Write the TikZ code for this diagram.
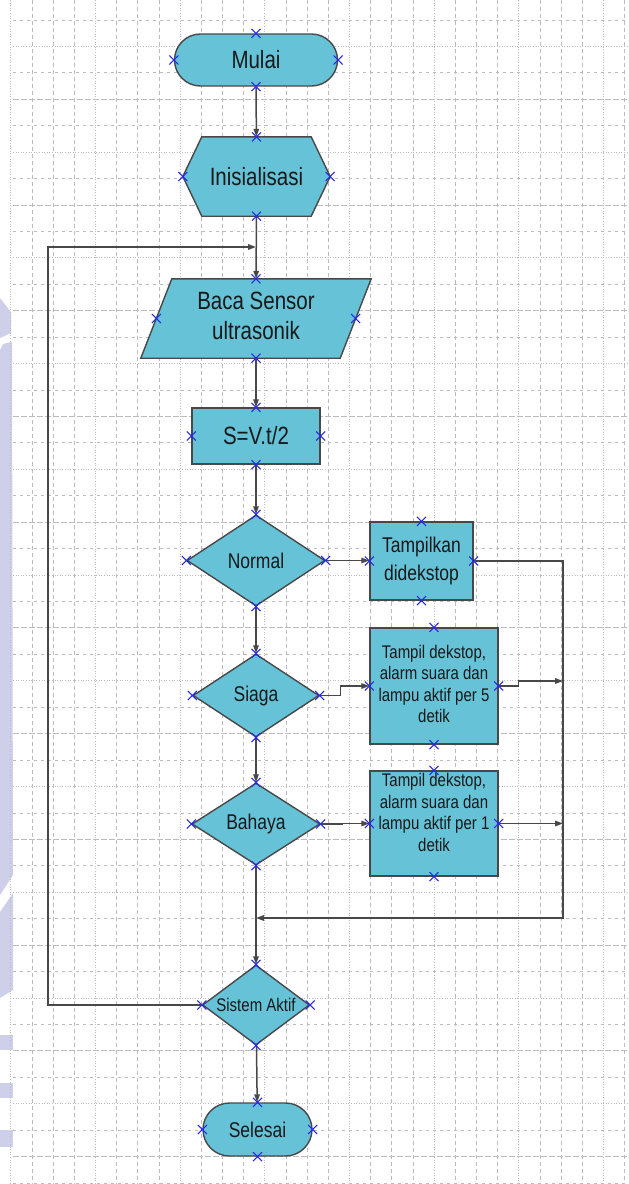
\documentclass[tikz,border=0pt]{standalone}
\usepackage{fontspec}
\setmainfont{Liberation Sans}
\usetikzlibrary{arrows.meta,calc,shapes.geometric}
\pgfdeclarelayer{gridlayer}
\pgfdeclarelayer{shapelayer}
\pgfdeclarelayer{marklayer}
\pgfsetlayers{gridlayer,shapelayer,main,marklayer}
\definecolor{boxfill}{RGB}{101,194,215}
\definecolor{edgec}{RGB}{72,72,72}
\definecolor{gridc}{RGB}{188,188,188}
\definecolor{wmc}{RGB}{205,208,232}
\definecolor{xblue}{RGB}{40,40,235}
\definecolor{txt}{RGB}{25,25,25}
\newcommand\vstr[1]{\scalebox{1}[1.22]{#1}}
\newcommand\tlines[1]{\vstr{\begin{tabular}{@{}c@{}}#1\end{tabular}}}
\tikzset{
  base/.style={inner sep=0pt, text=txt, align=center},
  box/.style={base, rectangle, draw=edgec, fill=boxfill, line width=1.4pt},
  dia/.style={base, diamond, draw=edgec, fill=boxfill, line width=1.4pt},
  ghost/.style={base, rectangle},
  outline/.style={draw=edgec, fill=boxfill, line width=1.4pt, line join=miter},
  flow/.style={draw=edgec, line width=1.5pt, -{Triangle[length=8pt,width=5.5pt]}},
  fA/.style={font=\fontsize{20.5pt}{24.5pt}\selectfont},
  fB/.style={font=\fontsize{17.5pt}{22.5pt}\selectfont},
  fC/.style={font=\fontsize{15pt}{17.6pt}\selectfont},
  xm/.pic={\draw[xblue, line width=1.1pt] (-4.5,-4.5) -- (4.5,4.5) (-4.5,4.5) -- (4.5,-4.5);}
}
\begin{document}
\begin{tikzpicture}[x=1pt,y=-1pt]
\useasboundingbox (0,0) rectangle (629,1184);

\begin{pgfonlayer}{gridlayer}
  \fill[white] (0,0) rectangle (629,1184);
  % faint watermark on the left edge
  \fill[wmc] (0,298) -- (11,312) -- (11,333) -- (0,338) -- cycle;
  \fill[wmc] (3,344) -- (12,342) -- (13,875) -- (0,895) -- (0,350) -- cycle;
  \fill[wmc] (0,912) -- (13,893) -- (13,990) -- (0,998) -- cycle;
  \fill[wmc] (0,1035) rectangle (13,1050);
  \fill[wmc] (0,1083) rectangle (13,1098);
  \fill[wmc] (0,1130) rectangle (13,1147);
  % grid
  \foreach \k in {0,...,29}{
    \pgfmathsetmacro\xx{10.8+21.17*\k}
    \pgfmathtruncatemacro\m{mod(\k,4)}
    \ifnum\m=0
      \draw[gridc, line width=0.8pt, dash pattern=on 1pt off 1.6pt] (\xx,0) -- (\xx,1184);
    \else
      \draw[gridc, line width=0.8pt, dash pattern=on 4pt off 3pt] (\xx,0) -- (\xx,1184);
    \fi
  }
  \foreach \k in {0,...,44}{
    \pgfmathsetmacro\yy{20+26.43*\k}
    \pgfmathtruncatemacro\m{mod(\k,4)}
    \ifnum\m=1
      \draw[gridc, line width=0.8pt, dash pattern=on 1pt off 1.6pt] (13,\yy) -- (629,\yy);
    \else\ifnum\m=3
      \draw[gridc, line width=0.8pt, dash pattern=on 6pt off 2pt] (13,\yy) -- (629,\yy);
    \else
      \draw[gridc, line width=0.8pt, dash pattern=on 3pt off 4pt] (13,\yy) -- (629,\yy);
    \fi\fi
  }
\end{pgfonlayer}

% nodes
\node[box, fA, rounded corners=26pt, minimum width=163pt, minimum height=52pt] (mulai) at (256,60) {\vstr{Mulai}};
\node[ghost, fA, minimum width=147pt, minimum height=79pt] (init) at (256.5,176.5) {\vstr{Inisialisasi}};
\node[ghost, fA, minimum width=230pt, minimum height=79pt] (baca) at (256,318.5) {\tlines{Baca Sensor\\ultrasonik}};
\node[box, fA, minimum width=128pt, minimum height=56pt] (calc) at (256,436) {\vstr{S=V.t/2}};
\node[dia, fB, minimum width=138pt, minimum height=91pt] (normal) at (256,560.5) {\vstr{Normal}};
\node[box, fB, minimum width=103pt, minimum height=78pt] (tamp0) at (421.5,561) {\tlines{Tampilkan\\didekstop}};
\node[dia, fB, minimum width=126pt, minimum height=83pt] (siaga) at (256,695.5) {\vstr{Siaga}};
\node[box, fC, minimum width=128pt, minimum height=116pt] (tamp1) at (434,686) {\tlines{Tampil dekstop,\\alarm suara dan\\lampu aktif per 5\\detik}};
\node[dia, fB, minimum width=128pt, minimum height=82pt] (bahaya) at (256,824) {\vstr{Bahaya}};
\node[box, minimum width=128pt, minimum height=105pt,
  label={[fC, text=txt, inner sep=0pt, align=center, yshift=9pt]center:\tlines{Tampil dekstop,\\alarm suara dan\\lampu aktif per 1\\detik}}] (tamp2) at (434,823.5) {};
\node[dia, minimum width=107pt, minimum height=80pt,
  label={[fC, text=txt, inner sep=0pt]center:\vstr{Sistem Aktif}}] (aktif) at (256,1005) {};
\node[box, fB, rounded corners=26.5pt, minimum width=109pt, minimum height=53pt] (selesai) at (257.5,1129.5) {\vstr{Selesai}};

% outlines of hexagon and parallelogram
\begin{pgfonlayer}{shapelayer}
  \path[outline] (init.west) -- ($(init.north west)+(19,0)$) -- ($(init.north east)+(-19,0)$)
     -- (init.east) -- ($(init.south east)+(-19,0)$) -- ($(init.south west)+(19,0)$) -- cycle;
  \path[outline] (baca.south west) -- ($(baca.north west)+(31,0)$) -- (baca.north east)
     -- ($(baca.south east)+(-31,0)$) -- cycle;
\end{pgfonlayer}

% connectors
\draw[flow] (mulai) -- (init);
\draw[flow] (init) -- (baca);
\draw[flow] (baca) -- (calc);
\draw[flow] (calc) -- (normal);
\draw[flow] (normal) -- (siaga);
\draw[flow] (siaga) -- (bahaya);
\draw[flow] (bahaya) -- (aktif);
\draw[flow] (aktif) -- (selesai);
\draw[flow] (normal.east) -- (normal.east -| tamp0.west);
\draw[flow] (siaga.east) -- ++(21,0) |- (tamp1.west);
\draw[flow] (bahaya.east) -- ++(22,0) |- (tamp2.west);
\coordinate (rtop) at (563,561);
\coordinate (rbot) at (563,918);
\coordinate (ret) at (256,918);
\coordinate (rx1) at (563,681);
\coordinate (rx2) at (563,823.5);
\draw[flow] (tamp0.east) -- (rtop) -- (rbot) -- (ret);
\draw[flow] (tamp1.east) -- ++(20,0) |- (rx1);
\draw[flow] (tamp2.east) -- (rx2);
\coordinate (lpb) at (48,1005);
\coordinate (lpt) at (48,247);
\coordinate (lpj) at (256,247);
\draw[flow] (aktif.west) -- (lpb) -- (lpt) -- (lpj);

% connection point marks
\begin{pgfonlayer}{marklayer}
  \foreach \n in {mulai,init,calc,normal,tamp0,siaga,tamp1,bahaya,tamp2,aktif,selesai}{
    \foreach \a in {north,south,east,west}{ \pic at (\n.\a) {xm}; }
  }
  \pic at (baca.north) {xm};
  \pic at (baca.south) {xm};
  \pic at ($(baca.west)+(15.5,0)$) {xm};
  \pic at ($(baca.east)+(-15.5,0)$) {xm};
\end{pgfonlayer}
\end{tikzpicture}
\end{document}
